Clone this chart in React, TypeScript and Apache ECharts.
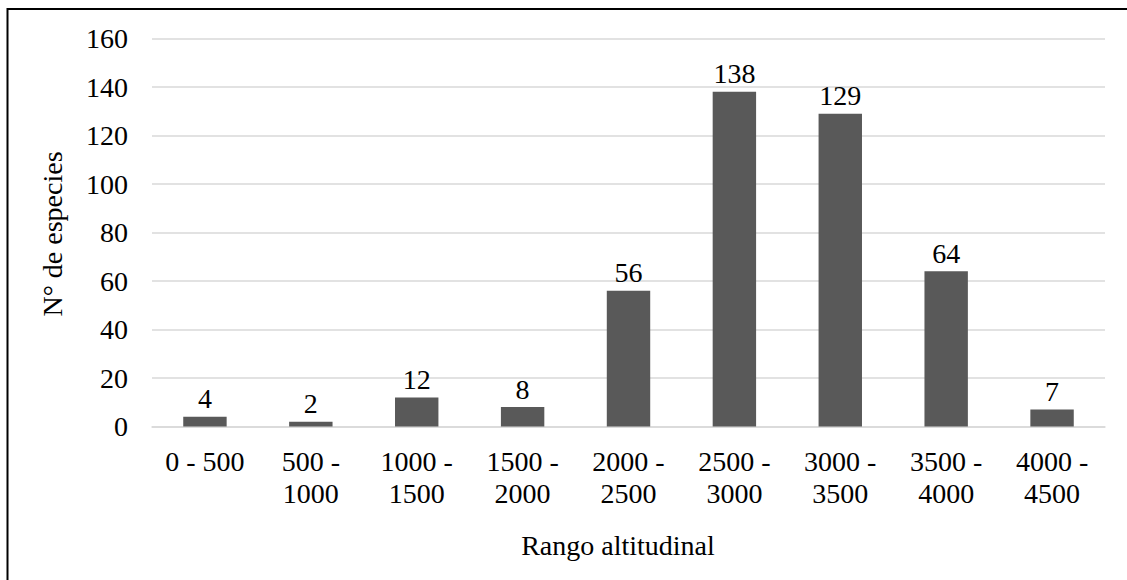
import React, { useEffect, useRef } from "react";
import * as echarts from "echarts";

const categories = ["0 - 500", "500 -\n1000", "1000 -\n1500", "1500 -\n2000", "2000 -\n2500", "2500 -\n3000", "3000 -\n3500", "3500 -\n4000", "4000 -\n4500"];
const speciesCounts = [4, 2, 12, 8, 56, 138, 129, 64, 7];
const yMin = 0;
const yMax = 160;
const yInterval = 20;
const xTitle = "Rango altitudinal";
const yTitle = "N° de especies";

const FONT = "Times New Roman, Liberation Serif, serif";

export default function App() {
  const ref = useRef<HTMLDivElement>(null);
  useEffect(() => {
    if (!ref.current) return;
    const chart = echarts.init(ref.current, undefined, { renderer: "svg" });
    chart.setOption({
      animation: false,
      backgroundColor: "#ffffff",
      textStyle: { fontFamily: FONT },
      grid: { left: 152, right: 22, top: 38.5, bottom: 153.5, containLabel: false },
      xAxis: {
        type: "category",
        data: categories,
        axisLine: { show: true, lineStyle: { color: "#d9d9d9", width: 1.5 } },
        axisTick: { show: false },
        axisLabel: {
          interval: 0,
          color: "#000",
          fontFamily: FONT,
          fontSize: 28,
          lineHeight: 32,
          margin: 19,
          verticalAlign: "top",
        },
      },
      yAxis: {
        type: "value",
        min: yMin,
        max: yMax,
        interval: yInterval,
        axisLine: { show: false },
        axisTick: { show: false },
        splitLine: { show: true, lineStyle: { color: "#d9d9d9", width: 1.5 } },
        axisLabel: { color: "#000", fontFamily: FONT, fontSize: 28, margin: 24 },
      },
      series: [
        {
          type: "bar",
          data: speciesCounts,
          barCategoryGap: "59%",
          itemStyle: { color: "#595959" },
          label: {
            show: true,
            position: "top",
            distance: 4,
            color: "#000",
            fontFamily: FONT,
            fontSize: 28,
          },
        },
      ],
      graphic: [
        {
          type: "rect",
          shape: { x: 7.5, y: 9, width: 1200, height: 700 },
          style: { fill: "none", stroke: "#000", lineWidth: 2 },
          silent: true,
        },
        {
          type: "text",
          x: 618,
          y: 545,
          style: {
            text: xTitle,
            fill: "#000",
            fontFamily: FONT,
            fontSize: 28,
            textAlign: "center",
            textVerticalAlign: "middle",
          },
        },
        {
          type: "text",
          x: 52.5,
          y: 234,
          rotation: Math.PI / 2,
          style: {
            text: yTitle,
            fill: "#000",
            fontFamily: FONT,
            fontSize: 28,
            textAlign: "center",
            textVerticalAlign: "middle",
          },
        },
      ],
    });
    return () => chart.dispose();
  }, []);
  return (
    <div
      ref={ref}
      style={{ position: "fixed", left: 0, top: 0, width: 1127, height: 580 }}
    />
  );
}
